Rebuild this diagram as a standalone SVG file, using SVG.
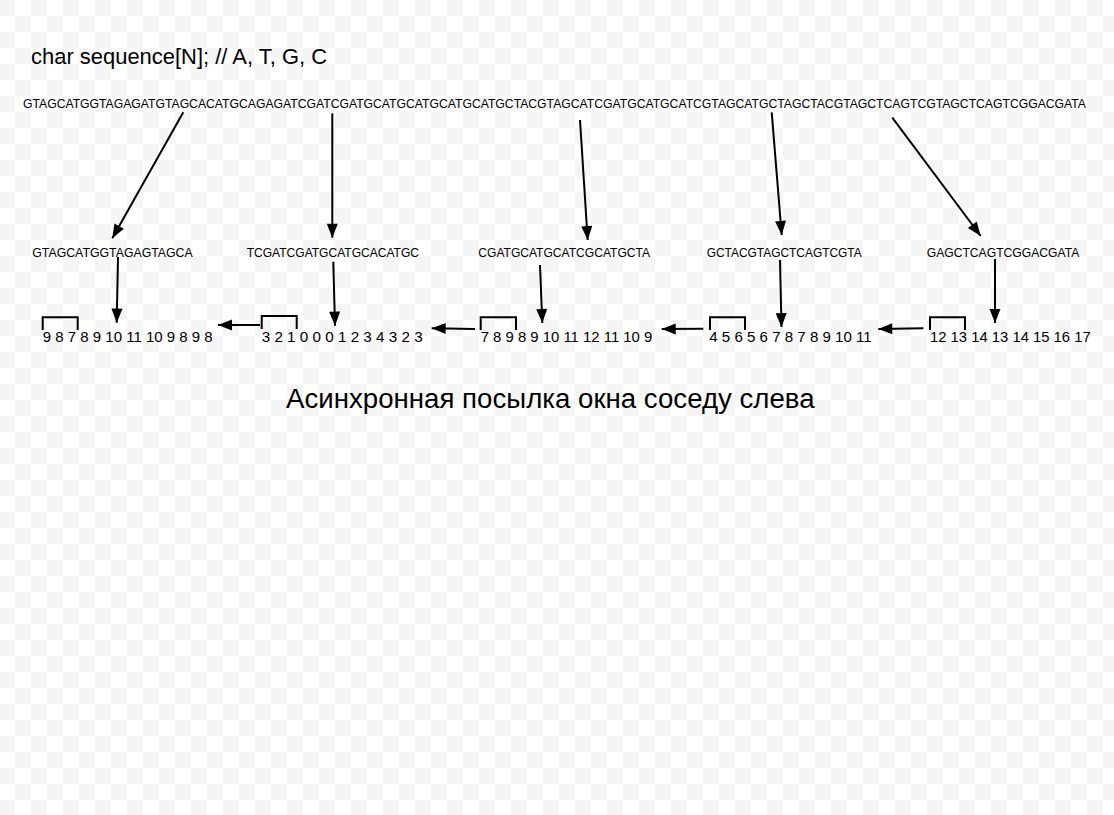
<svg xmlns="http://www.w3.org/2000/svg" width="1114" height="815" viewBox="0 0 1114 815">
  <style>
    text { font-family: "Liberation Sans", Arial, sans-serif; fill: #000; }
    .title { font-size: 22px; }
    .seq { font-size: 12.5px; }
    .frag { font-size: 12.5px; }
    .num { font-size: 15px; }
    .caption { font-size: 27px; }
    .arrow { stroke: #000; stroke-width: 2; fill: none; marker-end: url(#head); }
    .bracket { stroke: #000; stroke-width: 2; fill: none; }
  </style>
  <defs>
    <pattern id="checker" x="-1" y="0" width="32" height="32" patternUnits="userSpaceOnUse">
      <rect x="0" y="0" width="32" height="32" fill="#ffffff"/>
      <rect x="0" y="0" width="16" height="16" fill="#f5f5f5"/>
      <rect x="16" y="16" width="16" height="16" fill="#f5f5f5"/>
    </pattern>
    <marker id="head" markerUnits="userSpaceOnUse" markerWidth="15" markerHeight="12" refX="14" refY="5.5" orient="auto" overflow="visible">
      <path d="M0,0 L14,5.5 L0,11 Z" fill="#000"/>
    </marker>
  </defs>
  <rect x="0" y="0" width="1114" height="815" fill="url(#checker)"/>

  <g id="title">
    <text class="title" x="31" y="63.5" textLength="296" lengthAdjust="spacingAndGlyphs">char sequence[N]; // A, T, G, C</text>
  </g>
  <g id="sequence">
    <text class="seq" x="23" y="107.5" textLength="1063" lengthAdjust="spacingAndGlyphs">GTAGCATGGTAGAGATGTAGCACATGCAGAGATCGATCGATGCATGCATGCATGCATGCTACGTAGCATCGATGCATGCATCGTAGCATGCTAGCTACGTAGCTCAGTCGTAGCTCAGTCGGACGATA</text>
  </g>

  <g id="fragment-1">
    <text class="frag" x="32.3" y="256.7" textLength="160.4" lengthAdjust="spacingAndGlyphs">GTAGCATGGTAGAGTAGCA</text>
  </g>
  <g id="fragment-2">
    <text class="frag" x="246.7" y="256.7" textLength="172.3" lengthAdjust="spacingAndGlyphs">TCGATCGATGCATGCACATGC</text>
  </g>
  <g id="fragment-3">
    <text class="frag" x="478.3" y="256.7" textLength="171.7" lengthAdjust="spacingAndGlyphs">CGATGCATGCATCGCATGCTA</text>
  </g>
  <g id="fragment-4">
    <text class="frag" x="706.7" y="256.7" textLength="155" lengthAdjust="spacingAndGlyphs">GCTACGTAGCTCAGTCGTA</text>
  </g>
  <g id="fragment-5">
    <text class="frag" x="926.7" y="256.7" textLength="152.6" lengthAdjust="spacingAndGlyphs">GAGCTCAGTCGGACGATA</text>
  </g>

  <g id="window-1">
    <polyline class="bracket" points="42.7,330 42.7,317.3 77.7,317.3 77.7,330"/>
    <text class="num" x="42.7" y="341.7" textLength="170" lengthAdjust="spacingAndGlyphs">9 8 7 8 9 10 11 10 9 8 9 8</text>
  </g>
  <g id="window-2">
    <polyline class="bracket" points="261.7,329 261.7,316 296.7,316 296.7,329"/>
    <text class="num" x="261.7" y="341.7" textLength="161" lengthAdjust="spacingAndGlyphs">3 2 1 0 0 0 1 2 3 4 3 2 3</text>
  </g>
  <g id="window-3">
    <polyline class="bracket" points="480.7,330 480.7,317.3 516,317.3 516,330"/>
    <text class="num" x="480.7" y="341.7" textLength="171.6" lengthAdjust="spacingAndGlyphs">7 8 9 8 9 10 11 12 11 10 9</text>
  </g>
  <g id="window-4">
    <polyline class="bracket" points="710,330 710,317.3 745,317.3 745,330"/>
    <text class="num" x="709.3" y="341.7" textLength="162.4" lengthAdjust="spacingAndGlyphs">4 5 6 5 6 7 8 7 8 9 10 11</text>
  </g>
  <g id="window-5">
    <polyline class="bracket" points="930,330 930,317.3 965,317.3 965,330"/>
    <text class="num" x="930" y="341.7" textLength="160.7" lengthAdjust="spacingAndGlyphs">12 13 14 13 14 15 16 17</text>
  </g>

  <g id="caption">
    <text class="caption" x="286" y="407.5" textLength="528.6" lengthAdjust="spacingAndGlyphs">Асинхронная посылка окна соседу слева</text>
  </g>

  <g id="connectors">
    <line class="arrow" x1="183.3" y1="112.3" x2="112.3" y2="238.3"/>
    <line class="arrow" x1="332.3" y1="113.3" x2="332.3" y2="237.7"/>
    <line class="arrow" x1="580" y1="120" x2="587.7" y2="240"/>
    <line class="arrow" x1="771.7" y1="112.3" x2="781.7" y2="235"/>
    <line class="arrow" x1="892.3" y1="117.7" x2="980.7" y2="236"/>

    <line class="arrow" x1="118" y1="257" x2="116.7" y2="322.7"/>
    <line class="arrow" x1="333.3" y1="261.7" x2="335" y2="325.7"/>
    <line class="arrow" x1="540" y1="265" x2="542.3" y2="323"/>
    <line class="arrow" x1="780" y1="260" x2="781.5" y2="327"/>
    <line class="arrow" x1="995" y1="259" x2="995" y2="323"/>

    <line class="arrow" x1="260" y1="325" x2="218" y2="325"/>
    <line class="arrow" x1="475" y1="329" x2="431.7" y2="328.3"/>
    <line class="arrow" x1="703.3" y1="328.7" x2="661.7" y2="329"/>
    <line class="arrow" x1="923.3" y1="328.3" x2="878.3" y2="329"/>
  </g>
</svg>
